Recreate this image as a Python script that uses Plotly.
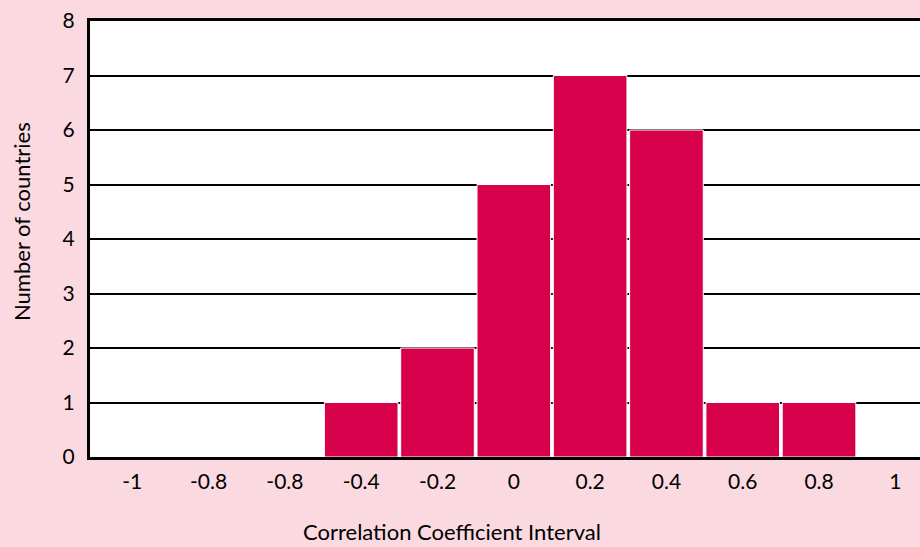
import plotly.graph_objects as go

tick_labels = ["-1", "-0.8", "-0.8", "-0.4", "-0.2", "0", "0.2", "0.4", "0.6", "0.8", "1"]
counts = [0, 0, 0, 1, 2, 5, 7, 6, 1, 1, 0]
positions = list(range(len(tick_labels)))
x_title = "Correlation Coefficient Interval"
y_title = "Number of countries"

BG = "#FAD9E0"
BAR = "#D7004B"
FONT = "Lato, 'Open Sans', sans-serif"

fig = go.Figure()
fig.add_trace(go.Bar(
    x=positions, y=counts, width=0.965,
    marker=dict(color=BAR, line=dict(color="white", width=1)),
    hoverinfo="skip",
))

fig.update_layout(
    width=920, height=547,
    paper_bgcolor=BG, plot_bgcolor="white",
    margin=dict(l=90, r=0, t=21, b=90),
    font=dict(family=FONT, size=20, color="black"),
    showlegend=False,
    xaxis=dict(
        range=[-0.554, 10.323],
        tickmode="array", tickvals=positions, ticktext=tick_labels,
        showgrid=False, zeroline=False,
        showline=True, linecolor="black", linewidth=3, mirror=True,
        ticks="outside", ticklen=4, tickcolor="rgba(0,0,0,0)",
        tickfont=dict(size=21),
    ),
    yaxis=dict(
        range=[0, 8], dtick=1,
        showgrid=True, gridcolor="black", gridwidth=1.5,
        zeroline=False,
        showline=True, linecolor="black", linewidth=3,
        ticks="outside", ticklen=8, tickcolor="rgba(0,0,0,0)",
        tickfont=dict(size=21),
    ),
    annotations=[
        dict(
            text=x_title, xref="paper", yref="paper",
            x=(452 - 90) / 830, y=(457 - 531) / 436, xanchor="center", yanchor="middle",
            showarrow=False, font=dict(size=22),
        ),
        dict(
            text=y_title, xref="paper", yref="paper", textangle=-90,
            x=(22 - 90) / 830, y=(457 - 222) / 436, xanchor="center", yanchor="middle",
            showarrow=False, font=dict(size=22),
        ),
    ],
)

fig.write_html(
    "out.html",
    config={"displayModeBar": False},
    post_script="document.body.style.margin='0';document.body.style.background='%s';" % BG,
)
